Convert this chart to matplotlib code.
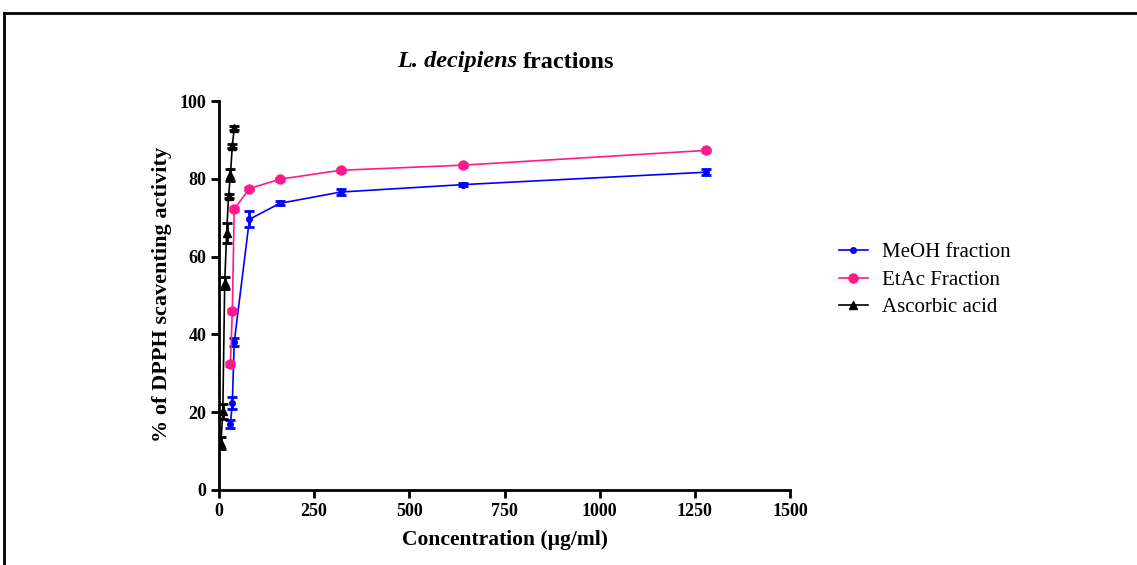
import matplotlib
matplotlib.use("Agg")
import matplotlib.pyplot as plt
from matplotlib.lines import Line2D

plt.rcParams['font.family'] = ['Liberation Serif', 'DejaVu Serif']

# Data
meoh_x = [30, 35, 40, 80, 160, 320, 640, 1280]
meoh_y = [17.0, 22.3, 38.0, 69.6, 73.7, 76.6, 78.5, 81.7]
meoh_err = [1.0, 1.6, 1.0, 2.0, 0.5, 0.8, 0.4, 0.8]

etac_x = [30, 35, 40, 80, 160, 320, 640, 1280]
etac_y = [32.4, 46.1, 72.2, 77.5, 79.9, 82.2, 83.5, 87.3]
etac_err = [0.5, 0.5, 0.5, 0.5, 0.4, 0.4, 0.4, 0.4]

asc_x = [5, 10, 15, 20, 25, 30, 35, 40]
asc_y = [12.0, 20.2, 53.2, 66.0, 75.5, 81.0, 88.5, 93.0]
asc_err = [1.5, 2.0, 1.5, 2.6, 0.5, 1.5, 0.5, 0.5]

xticks = [0, 250, 500, 750, 1000, 1250, 1500]
yticks = [0, 20, 40, 60, 80, 100]

blue = '#0000FF'
pink = '#FF1A8C'
black = '#000000'

W, H = 1137, 565
fig = plt.figure(figsize=(W/100, H/100), dpi=100)
x0, x1, y0, y1 = 219, 790, 490, 101
ax = fig.add_axes([x0/W, 1-y0/H, (x1-x0)/W, (y0-y1)/H])

ax.errorbar(meoh_x, meoh_y, yerr=meoh_err, color=blue, marker='o', ms=4,
            lw=1.2, capsize=3.5, elinewidth=2, capthick=2, label='MeOH fraction')
ax.errorbar(etac_x, etac_y, yerr=etac_err, color=pink, marker='o', ms=6.5,
            lw=1.2, capsize=3.5, elinewidth=2, capthick=2, label='EtAc Fraction')
ax.errorbar(asc_x, asc_y, yerr=asc_err, color=black, marker='^', ms=5.5,
            lw=1.2, capsize=3.5, elinewidth=2, capthick=2, label='Ascorbic acid')

ax.set_xlim(0, 1500)
ax.set_ylim(0, 100)
ax.set_xticks(xticks)
ax.set_yticks(yticks)
ax.set_xticklabels([str(t) for t in xticks], fontweight='bold', fontsize=13)
ax.set_yticklabels([str(t) for t in yticks], fontweight='bold', fontsize=13)
for s in ['top', 'right']:
    ax.spines[s].set_visible(False)
for s in ['left', 'bottom']:
    ax.spines[s].set_linewidth(2)
ax.tick_params(direction='out', length=6, width=2, pad=3)
ax.set_xlabel('Concentration (µg/ml)', fontweight='bold', fontsize=15.5)
ax.set_ylabel('% of DPPH scaventing activity', fontweight='bold', fontsize=16)
ax.xaxis.set_label_coords((504.5-x0)/(x1-x0), (y0-540)/(y0-y1))
ax.xaxis.label.set_va('center')
ax.yaxis.set_label_coords((162-x0)/(x1-x0), (y0-294)/(y0-y1))
ax.yaxis.label.set_va('center')

# Title
split = 523/W
ty = 1 - 62/H
fig.text(split, ty, 'L. decipiens ', ha='right', va='center', fontsize=17.5,
         fontstyle='italic', fontweight='bold')
fig.text(split, ty, 'fractions', ha='left', va='center', fontsize=17.5,
         fontweight='bold')

handles = [
    Line2D([], [], color=blue, marker='o', ms=4, lw=1.2),
    Line2D([], [], color=pink, marker='o', ms=6.5, lw=1.2),
    Line2D([], [], color=black, marker='^', ms=5.5, lw=1.2),
]
fig.legend(handles, ['MeOH fraction', 'EtAc Fraction', 'Ascorbic acid'],
           loc='center left', bbox_to_anchor=(820/W, 1-280/H), frameon=False,
           fontsize=15, handlelength=1.4, handletextpad=0.7, labelspacing=0.38)

# Figure border (top and left)
fig.add_artist(Line2D([4/W, 4/W], [0, 1-13/H], color='black', lw=2,
                      transform=fig.transFigure))
fig.add_artist(Line2D([4/W, 1], [1-13/H, 1-13/H], color='black', lw=2,
                      transform=fig.transFigure))

fig.savefig('out.png', dpi=100)
